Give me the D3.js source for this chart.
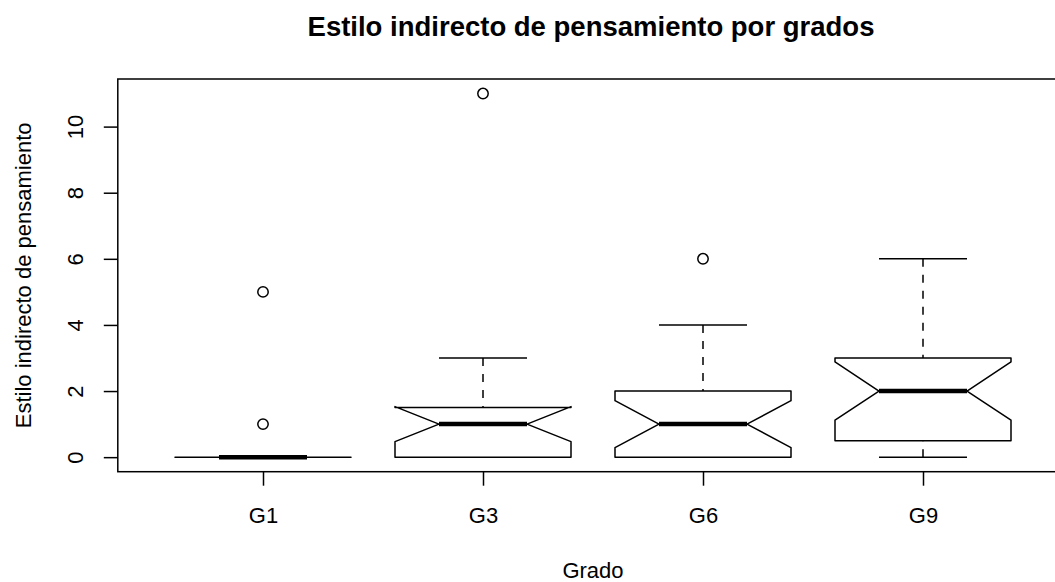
<!DOCTYPE html>
<html>
<head>
<meta charset="utf-8">
<script src="https://cdn.jsdelivr.net/npm/d3@7/dist/d3.min.js"></script>
<style>
  html, body { margin: 0; padding: 0; background: #fff; }
  svg { display: block; font-family: "Liberation Sans", Arial, Helvetica, sans-serif; }
</style>
</head>
<body>
<svg id="chart" width="1055" height="582"></svg>
<script>
// ---- data ----
const categories   = ["G1", "G3", "G6", "G9"];
const whiskerLow   = [0, 0, 0, 0];
const q1           = [0, 0, 0, 0.5];
const medians      = [0, 1, 1, 2];
const q3           = [0, 1.5, 2, 3];
const whiskerHigh  = [0, 3, 4, 6];
const notchLow     = [0, 0.47, 0.29, 1.12];
const notchHigh    = [0, 1.53, 1.71, 2.88];
const outliers     = [[5, 1], [11], [6], []];
const yTicks       = [0, 2, 4, 6, 8, 10];
const titleText    = "Estilo indirecto de pensamiento por grados";
const xLabel       = "Grado";
const yLabel       = "Estilo indirecto de pensamiento";

// ---- layout ----
const svg = d3.select("#chart");
const plotLeft = 117.8, plotTop = 79, plotBottom = 471.7;
const unit = 220; // pixels per category step
const n = categories.length;
const xmin = 0.5 - 0.04 * n, xmax = n + 0.5 + 0.04 * n;
const x = d3.scaleLinear().domain([xmin, xmax]).range([plotLeft, plotLeft + (xmax - xmin) * unit]);
const allVals = [].concat(whiskerLow, whiskerHigh, ...outliers);
const ylo = d3.min(allVals), yhi = d3.max(allVals);
const ext = (yhi - ylo) * 0.04;
const y = d3.scaleLinear().domain([ylo - ext, yhi + ext]).range([plotBottom, plotTop]);

const boxHalf = 0.4 * (x(2) - x(1));
const lw = 1.5;
const fontAxis = 22;

const data = categories.map((c, i) => ({
  c, i: i + 1,
  lo: whiskerLow[i], q1: q1[i], med: medians[i], q3: q3[i], hi: whiskerHigh[i],
  nl: notchLow[i], nh: notchHigh[i], out: outliers[i]
}));

const g = svg.append("g");

// whiskers (dashed)
data.forEach(d => {
  const cx = x(d.i);
  g.append("line").attr("x1", cx).attr("x2", cx).attr("y1", y(d.lo)).attr("y2", y(d.q1))
    .attr("stroke", "#000").attr("stroke-width", lw).attr("stroke-dasharray", "8,8");
  g.append("line").attr("x1", cx).attr("x2", cx).attr("y1", y(d.hi)).attr("y2", y(d.q3))
    .attr("stroke", "#000").attr("stroke-width", lw).attr("stroke-dasharray", "8,8");
  // staples
  [d.lo, d.hi].forEach(v => {
    g.append("line").attr("x1", cx - boxHalf / 2).attr("x2", cx + boxHalf / 2)
      .attr("y1", y(v)).attr("y2", y(v)).attr("stroke", "#000").attr("stroke-width", lw);
  });
});

// notched boxes
data.forEach(d => {
  const cx = x(d.i), w = boxHalf;
  const pts = [
    [cx - w, d.q1], [cx + w, d.q1], [cx + w, d.nl], [cx + w / 2, d.med], [cx + w, d.nh],
    [cx + w, d.q3], [cx - w, d.q3], [cx - w, d.nh], [cx - w / 2, d.med], [cx - w, d.nl]
  ];
  g.append("path")
    .attr("d", "M" + pts.map(p => p[0] + "," + y(p[1])).join("L") + "Z")
    .attr("fill", "#fff").attr("stroke", "#000").attr("stroke-width", lw)
    .attr("stroke-linejoin", "round");
  g.append("line").attr("x1", cx - w / 2).attr("x2", cx + w / 2)
    .attr("y1", y(d.med)).attr("y2", y(d.med))
    .attr("stroke", "#000").attr("stroke-width", 4.5);
});

// outliers
data.forEach(d => {
  d.out.forEach(v => {
    g.append("circle").attr("cx", x(d.i)).attr("cy", y(v)).attr("r", 5.2)
      .attr("fill", "none").attr("stroke", "#000").attr("stroke-width", lw);
  });
});

// frame
svg.append("rect").attr("x", x.range()[0]).attr("y", plotTop)
  .attr("width", x.range()[1] - x.range()[0]).attr("height", plotBottom - plotTop)
  .attr("fill", "none").attr("stroke", "#000").attr("stroke-width", lw);

// y axis
const yAxis = svg.append("g").attr("transform", `translate(${plotLeft},0)`)
  .call(d3.axisLeft(y).tickValues(yTicks).tickSize(14).tickFormat(d3.format("d")));
yAxis.select(".domain").remove();
yAxis.selectAll(".tick line").attr("stroke", "#000").attr("stroke-width", lw);
yAxis.selectAll(".tick text")
  .attr("transform", "rotate(-90)").attr("x", 0).attr("y", -35).attr("dy", null)
  .attr("text-anchor", "middle").attr("font-size", fontAxis).attr("fill", "#000")
  .style("font-family", "'Liberation Sans', Arial, Helvetica, sans-serif");

// x axis
const xAxis = svg.append("g").attr("transform", `translate(0,${plotBottom})`)
  .call(d3.axisBottom(x).tickValues(data.map(d => d.i)).tickSize(14)
    .tickFormat(v => categories[v - 1]));
xAxis.select(".domain").remove();
xAxis.selectAll(".tick line").attr("stroke", "#000").attr("stroke-width", lw);
xAxis.selectAll(".tick text").attr("y", 51.5).attr("dy", null)
  .attr("font-size", fontAxis).attr("fill", "#000")
  .style("font-family", "'Liberation Sans', Arial, Helvetica, sans-serif");

// titles
const cxPlot = (x.range()[0] + x.range()[1]) / 2;
svg.append("text").attr("x", cxPlot - 2).attr("y", 36).attr("text-anchor", "middle")
  .attr("font-size", 27.5).attr("font-weight", "bold").attr("fill", "#000").text(titleText);
svg.append("text").attr("x", cxPlot).attr("y", 578).attr("text-anchor", "middle")
  .attr("font-size", fontAxis).attr("fill", "#000").text(xLabel);
svg.append("text").attr("transform", `translate(31,${(plotTop + plotBottom) / 2}) rotate(-90)`)
  .attr("text-anchor", "middle").attr("font-size", fontAxis).attr("fill", "#000").text(yLabel);
</script>
</body>
</html>
